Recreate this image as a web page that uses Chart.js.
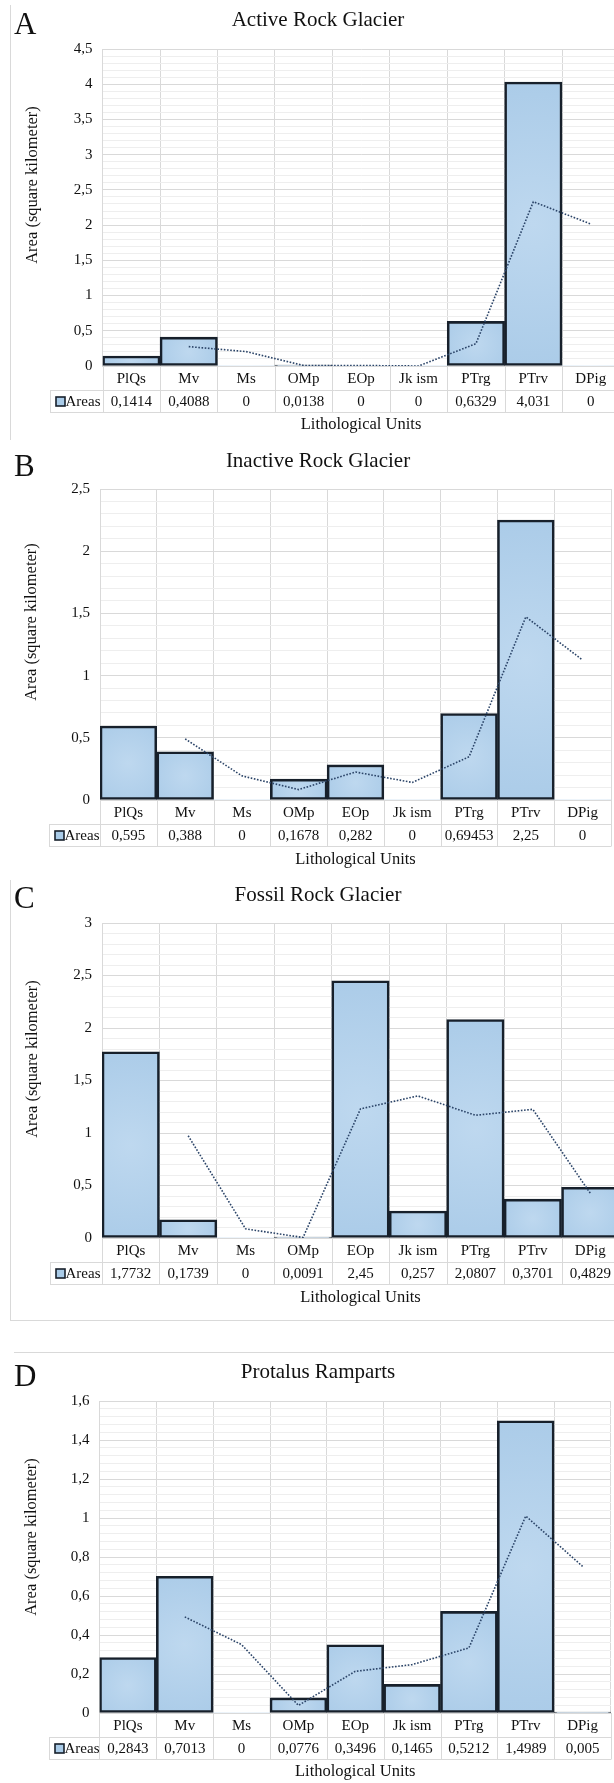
<!DOCTYPE html>
<html><head><meta charset="utf-8">
<script src="https://cdn.jsdelivr.net/npm/chart.js@4.4.1/dist/chart.umd.min.js"></script>
<style>
html,body{margin:0;padding:0;background:#fff;overflow:hidden;width:614px;height:1783px;position:relative;}
canvas{position:absolute;left:0;}
.fr{position:absolute;background:#d9d9d9;}
</style></head><body>
<div class="fr" style="left:10px;top:5px;width:1px;height:435px"></div>
<div class="fr" style="left:10px;top:880px;width:1px;height:440px"></div>
<div class="fr" style="left:10px;top:1320px;width:604px;height:1px"></div>
<div class="fr" style="left:14px;top:1352px;width:600px;height:1px"></div>
<canvas id="cA" width="622" height="445" style="top:0px;width:622px;height:445px"></canvas>
<canvas id="cB" width="614" height="440" style="top:440px;width:614px;height:440px"></canvas>
<canvas id="cC" width="622" height="450" style="top:870px;width:622px;height:450px"></canvas>
<canvas id="cD" width="614" height="453" style="top:1330px;width:614px;height:453px"></canvas>
<script>
// ---- data ----
const categories = ['PlQs', 'Mv', 'Ms', 'OMp', 'EOp', 'Jk ism', 'PTrg', 'PTrv', 'DPig'];
const activeAreas   = [0.1414, 0.4088, 0, 0.0138, 0, 0, 0.6329, 4.031, 0];
const inactiveAreas = [0.595, 0.388, 0, 0.1678, 0.282, 0, 0.69453, 2.25, 0];
const fossilAreas   = [1.7732, 0.1739, 0, 0.0091, 2.45, 0.257, 2.0807, 0.3701, 0.4829];
const protalusAreas = [0.2843, 0.7013, 0, 0.0776, 0.3496, 0.1465, 0.5212, 1.4989, 0.005];
// dotted trendlines
const activeTrend   = [null, 0.2751, 0.2044, 0.0069, 0.0069, 0, 0.3165, 2.332, 2.0155];
const inactiveTrend = [null, 0.4915, 0.194, 0.0839, 0.2249, 0.141, 0.3473, 1.4723, 1.125];
const fossilTrend   = [null, 0.9736, 0.087, 0.0046, 1.2296, 1.3535, 1.1689, 1.2254, 0.4265];
const protalusTrend = [null, 0.4928, 0.3507, 0.0388, 0.2136, 0.2481, 0.3339, 1.0101, 0.752];
const seriesName = 'Areas';
const xTitle = 'Lithological Units';
const yTitle = 'Area (square kilometer)';
const titles = ['Active Rock Glacier', 'Inactive Rock Glacier', 'Fossil Rock Glacier', 'Protalus Ramparts'];
const letters = ['A', 'B', 'C', 'D'];
const yMax   = [4.5, 2.5, 3, 1.6];
const yMajor = [0.5, 0.5, 0.5, 0.2];
const yMinor = [0.1, 0.1, 0.1, 0.04];

// ---- layout (absolute page coordinates) ----
const FONT = "'Liberation Serif', 'Times New Roman', serif";
const panels = [
  {id:'cA', top:0,    w:622, h:445, left:102.6, right:619.5, pTop:49,   pBot:366,  titleY:20,   letterY:34,   yTitleX:33, yTitleY:185,  tableLeft:50, lithY:425},
  {id:'cB', top:440,  w:614, h:440, left:100,   right:611,   pTop:489,  pBot:800,  titleY:461,  letterY:476,  yTitleX:32, yTitleY:622,  tableLeft:49, lithY:860},
  {id:'cC', top:870,  w:622, h:450, left:102,   right:619,   pTop:923,  pBot:1238, titleY:895,  letterY:908,  yTitleX:33, yTitleY:1059, tableLeft:50, lithY:1298},
  {id:'cD', top:1330, w:614, h:453, left:99.5,  right:611,   pTop:1401, pBot:1713, titleY:1372, letterY:1386, yTitleX:32, yTitleY:1537, tableLeft:49, lithY:1772}
];
const areasList = [activeAreas, inactiveAreas, fossilAreas, protalusAreas];
const trendList = [activeTrend, inactiveTrend, fossilTrend, protalusTrend];

const fmt = v => String(Math.round(v * 100000) / 100000).replace('.', ',');

function barFill(ctx) {
  const chart = ctx.chart, xs = chart.scales.x, ys = chart.scales.y;
  if (!xs || !ys || ctx.type !== 'data' || !chart.chartArea) return '#b3d0eb';
  const v = ctx.raw || 0;
  const cx = xs.getPixelForValue(ctx.dataIndex);
  const w = (chart.chartArea.right - chart.chartArea.left) / categories.length;
  const t = ys.getPixelForValue(v), b = ys.getPixelForValue(0);
  const h = Math.max(1, b - t);
  const cy = (t + b) / 2;
  const r = Math.sqrt(w * w + h * h) / 2 * 1.05;
  const g = chart.ctx.createRadialGradient(cx, cy, 0, cx, cy, r);
  g.addColorStop(0, '#bed8ef');
  g.addColorStop(1, '#aacbe8');
  return g;
}

const decorPlugin = {
  id: 'decor',
  afterDraw(chart) {
    const P = chart.options.plugins.decor;
    const ctx = chart.ctx, a = chart.chartArea, xs = chart.scales.x;
    const n = categories.length;
    const colW = (a.right - a.left) / n;
    ctx.save();
    // table lines
    const y0 = a.bottom, y1 = y0 + P.catH, y2 = y1 + P.rowH;
    const px = v => Math.round(v) + 0.5;
    ctx.strokeStyle = '#d9d9d9';
    ctx.lineWidth = 1;
    ctx.beginPath();
    ctx.moveTo(P.tableLeft, px(y1)); ctx.lineTo(a.right, px(y1));
    ctx.moveTo(P.tableLeft, px(y2)); ctx.lineTo(a.right, px(y2));
    for (let i = 0; i <= n; i++) {
      const x = px(xs.getPixelForValue(Math.min(i, n - 1)) + (i === n ? colW / 2 : -colW / 2));
      ctx.moveTo(x, y0); ctx.lineTo(x, px(y2));
    }
    ctx.moveTo(px(P.tableLeft), px(y1)); ctx.lineTo(px(P.tableLeft), px(y2));
    ctx.stroke();
    // values row
    ctx.fillStyle = '#111111';
    ctx.font = '15px ' + FONT;
    ctx.textAlign = 'center';
    ctx.textBaseline = 'middle';
    const my = (y1 + y2) / 2 + 1;
    P.values.forEach((v, i) => ctx.fillText(fmt(v), xs.getPixelForValue(i), my));
    // legend key + series name
    ctx.fillStyle = '#a9cbe8';
    ctx.fillRect(P.tableLeft + 6, my - 5, 9, 9);
    ctx.strokeStyle = '#17202b';
    ctx.lineWidth = 1.6;
    ctx.strokeRect(P.tableLeft + 6, my - 5, 9, 9);
    ctx.fillStyle = '#111111';
    ctx.textAlign = 'left';
    ctx.fillText(seriesName, P.tableLeft + 15.5, my);
    // x title
    ctx.font = '16.5px ' + FONT;
    ctx.textAlign = 'center';
    ctx.fillText(xTitle, (a.left + a.right) / 2, P.lithY);
    // chart title
    ctx.font = '21px ' + FONT;
    ctx.fillText(P.title, 318, P.titleY);
    // letter
    ctx.font = '31px ' + FONT;
    ctx.textAlign = 'left';
    ctx.textBaseline = 'alphabetic';
    ctx.fillText(P.letter, 14, P.letterY);
    // y title
    ctx.translate(P.yTitleX, P.yTitleY);
    ctx.rotate(-Math.PI / 2);
    ctx.font = '16.5px ' + FONT;
    ctx.textAlign = 'center';
    ctx.textBaseline = 'middle';
    ctx.fillText(yTitle, 0, 0);
    ctx.restore();
  }
};

panels.forEach((p, k) => {
  const canvas = document.getElementById(p.id);
  const major = yMajor[k];
  const isMajor = v => Math.abs(v / major - Math.round(v / major)) < 1e-6;
  const values = areasList[k];
  new Chart(canvas, {
    type: 'bar',
    data: {
      labels: categories,
      datasets: [
        {
          type: 'line',
          label: 'trend',
          data: trendList[k],
          borderColor: '#2b4468',
          borderWidth: 1.6,
          borderDash: [1.6, 1.6],
          pointRadius: 0,
          fill: false,
          tension: 0,
          order: 0
        },
        {
          label: seriesName,
          data: values,
          backgroundColor: barFill,
          borderColor: '#17202b',
          borderWidth: c => (c.raw > 0 ? 2.6 : 0),
          borderSkipped: false,
          barPercentage: 1,
          categoryPercentage: 1,
          order: 1
        }
      ]
    },
    options: {
      responsive: false,
      animation: false,
      devicePixelRatio: 1,
      layout: { padding: { left: 0, right: p.w - p.right, top: p.pTop - p.top, bottom: 0 } },
      plugins: {
        legend: { display: false },
        tooltip: { enabled: false },
        decor: {
          values: values,
          title: titles[k],
          letter: letters[k],
          titleY: p.titleY - p.top,
          letterY: p.letterY - p.top,
          yTitleX: p.yTitleX,
          yTitleY: p.yTitleY - p.top,
          tableLeft: p.tableLeft,
          lithY: p.lithY - p.top,
          catH: 24,
          rowH: 22
        }
      },
      scales: {
        x: {
          offset: true,
          grid: { color: '#d9d9d9', drawTicks: false, offset: true },
          border: { color: '#d9d9d9' },
          ticks: { color: '#111111', font: { family: FONT, size: 15 }, padding: 4, maxRotation: 0, autoSkip: false },
          afterFit: s => { s.height = p.h - (p.pBot - p.top); }
        },
        y: {
          min: 0,
          max: yMax[k],
          grid: {
            drawTicks: false,
            color: c => (c.tick && isMajor(c.tick.value) ? '#d9d9d9' : '#eeeeee')
          },
          border: { color: '#d9d9d9' },
          ticks: {
            stepSize: yMinor[k],
            autoSkip: false,
            padding: 10,
            color: '#111111',
            font: { family: FONT, size: 15 },
            callback: v => (isMajor(v) ? fmt(v) : '')
          },
          afterFit: s => { s.width = p.left; }
        }
      }
    },
    plugins: [decorPlugin]
  });
});
</script>
</body></html>
